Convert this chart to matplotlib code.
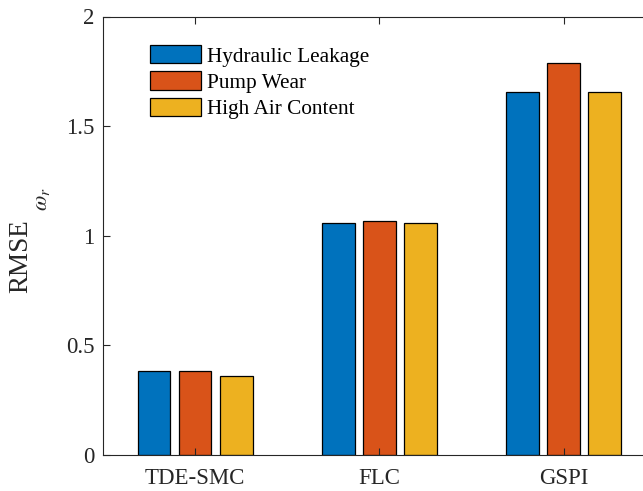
import matplotlib
matplotlib.use("Agg")
import matplotlib.pyplot as plt
import numpy as np

# ---------------- data ----------------
categories = ['TDE-SMC', 'FLC', 'GSPI']
series_names = ['Hydraulic Leakage', 'Pump Wear', 'High Air Content']
leakage = [0.383, 1.060, 1.657]
pump_wear = [0.383, 1.066, 1.789]
air_content = [0.362, 1.060, 1.657]
colors = ['#0072BD', '#D95319', '#EDB120']
# --------------------------------------

plt.rcParams['font.family'] = ['Liberation Serif', 'DejaVu Serif']
plt.rcParams['mathtext.fontset'] = 'stix'

W, H = 643, 491
fig = plt.figure(figsize=(W / 100, H / 100), dpi=100)

# axes box in pixels (right side runs past the figure edge, as in the reference)
left, right, top, bottom = 103, 103 + 3 * 184.25, 16.5, 455
ax = fig.add_axes([left / W, 1 - bottom / H, (right - left) / W, (bottom - top) / H])

x = np.arange(1, len(categories) + 1)
offset = 0.223
width = 0.177
for i, vals in enumerate([leakage, pump_wear, air_content]):
    ax.bar(x + (i - 1) * offset, vals, width, color=colors[i],
           edgecolor='black', linewidth=0.9, label=series_names[i])

ax.set_xlim(0.5, 3.5)
ax.set_ylim(0, 2)
ax.set_xticks(x)
ax.set_xticklabels(categories)
ax.set_yticks([0, 0.5, 1, 1.5, 2])
ax.set_yticklabels(['0', '0.5', '1', '1.5', '2'])
ax.tick_params(direction='in', length=5, width=0.8, top=True, right=True,
               labelsize=16.5, colors='#262626', pad=6)
ax.tick_params(axis='x', pad=9)
for s in ax.spines.values():
    s.set_color('#262626')
    s.set_linewidth(0.8)

leg = ax.legend(loc='upper left', bbox_to_anchor=(0.070, 0.954), frameon=False,
                fontsize=15.3, handlelength=2.4, handleheight=0.94,
                handletextpad=0.25, labelspacing=0.23, borderaxespad=0)

# y label: "RMSE" with a small omega_r after it
fig.text(21 / W, 1 - 256 / H, 'RMSE', rotation=90, fontsize=19.5,
         ha='center', va='center', color='#262626')
fig.text(42 / W, 1 - 199 / H, r'$\omega_r$', rotation=90, fontsize=16,
         ha='center', va='center', color='#262626')

fig.savefig('out.png', dpi=100)
